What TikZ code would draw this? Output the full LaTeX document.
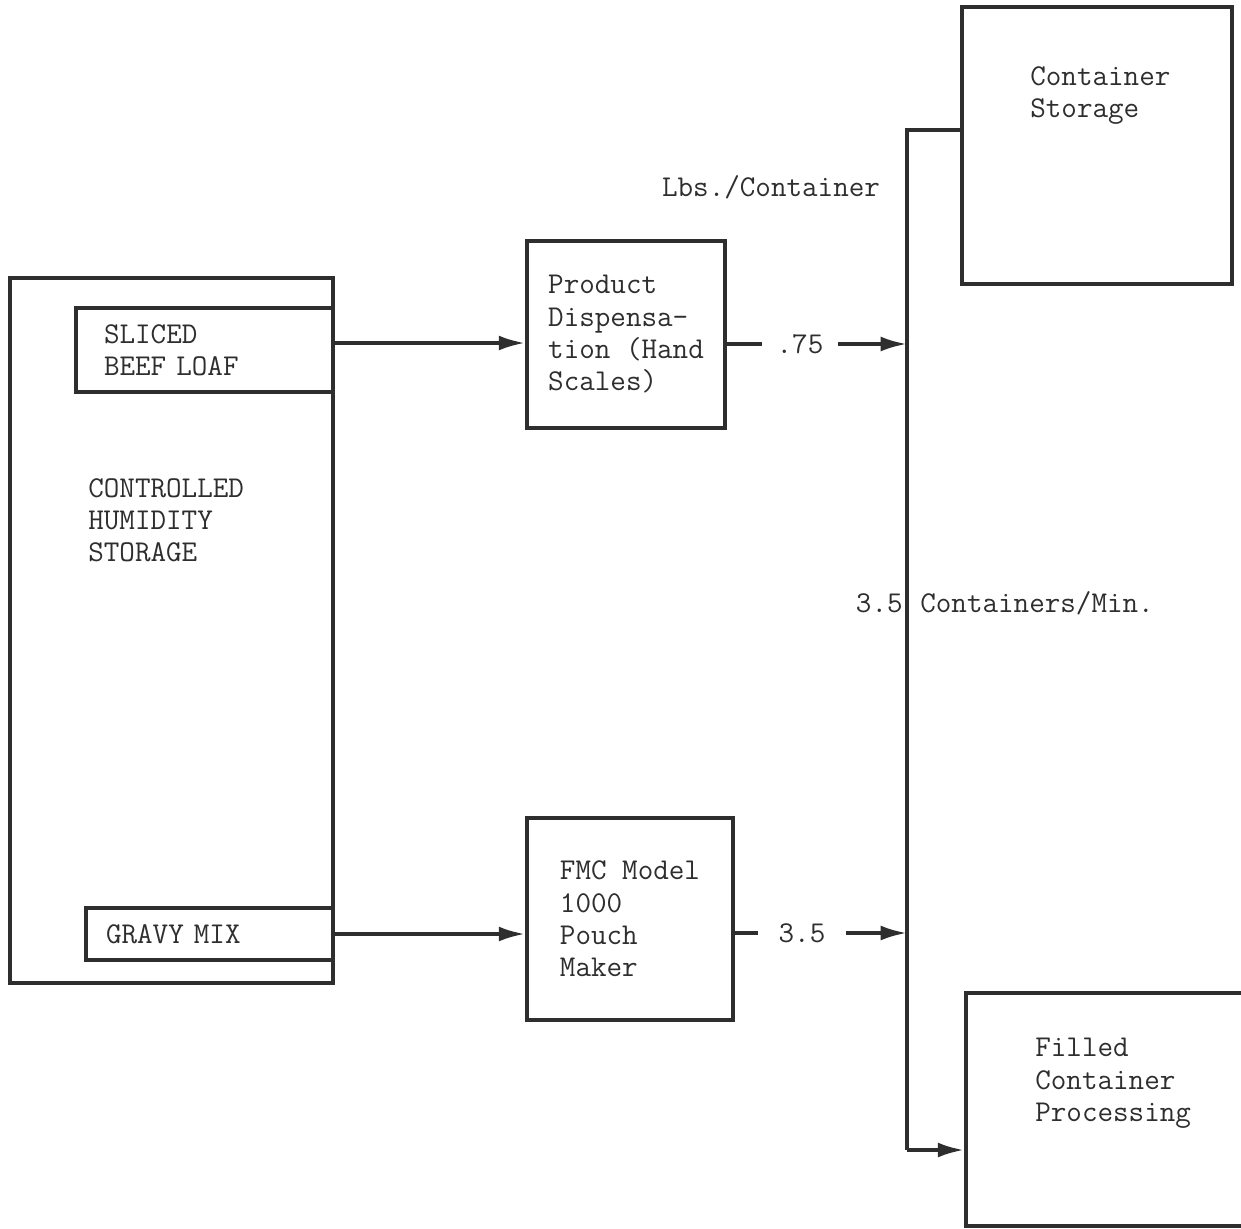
\documentclass[tikz,border=0pt]{standalone}
\usepackage{fontspec}
\definecolor{inkgray}{HTML}{2E2E2E}
\usetikzlibrary{positioning,calc,arrows.meta}

\begin{document}
\begin{tikzpicture}[
    x=0.02cm,y=-0.02cm,
    box/.style={rectangle,draw=inkgray,line width=2.1pt,inner sep=0pt},
    txt/.style={font=\fontsize{17.2}{18.4}\selectfont\ttfamily,text=inkgray,
      align=left,inner sep=0pt},
    line/.style={-,line width=2.1pt,draw=inkgray},
    flow/.style={-{Latex[length=15pt,width=8.5pt]},line width=2.1pt,draw=inkgray}
  ]
    \useasboundingbox (0,0) rectangle (1241,1228);
    % Storage with its two bins
    \node[box,minimum width=323*0.02cm,minimum height=705*0.02cm] (hum) at (171.5,630.5) {};
    \node[txt,anchor=north west] (humtxt) at (88,478) {CONTROLLED\\HUMIDITY\\STORAGE};
    \node[box,txt,minimum width=257*0.02cm,minimum height=84*0.02cm,
      text width=201*0.02cm,inner xsep=28*0.02cm] (beef) at (204.5,350) {SLICED\\BEEF LOAF};
    \node[box,txt,minimum width=247*0.02cm,minimum height=52*0.02cm,
      text width=207*0.02cm,inner xsep=20*0.02cm] (gravy) at (209.5,934) {GRAVY MIX};
    % Process boxes
    \node[box,txt,minimum width=198*0.02cm,minimum height=187*0.02cm] (disp) at (626,334.5)
      {Product\\Dispensa-\\tion (Hand\\Scales)};
    \node[box,txt,minimum width=206*0.02cm,minimum height=202*0.02cm] (fmc) at (630,919)
      {FMC Model\\1000\\Pouch\\Maker};
    \node[box,minimum width=270*0.02cm,minimum height=277*0.02cm] (store) at (1097,145.5) {};
    \node[txt,anchor=north west] (storetxt) at (1030,66) {Container\\Storage};
    \node[box,minimum width=300*0.02cm,minimum height=233*0.02cm] (filled) at (1116,1109.5) {};
    \node[txt,anchor=north west] (filledtxt) at (1035,1038) {Filled\\Container\\Processing};
    % Feeds
    \coordinate (beefout) at ($(beef.east)+(0,-7)$);
    \draw[flow] (beefout) -- (beefout -| disp.west);
    \draw[flow] (gravy.east) -- (gravy.east -| fmc.west);
    % Collecting line
    \coordinate (bustop) at (907,130);
    \coordinate (busbot) at (907,1150);
    \draw[line] (bustop -| store.west) -- (bustop) -- (busbot);
    \draw[flow] (busbot) -- (busbot -| filled.west);
    % Rates
    \node[txt,inner xsep=14*0.02cm] (r75) at (800,344) {.75};
    \draw[line] (r75 -| disp.east) -- (r75.west);
    \draw[flow] (r75.east) -- (r75 -| bustop);
    \node[txt,inner xsep=20*0.02cm] (r35) at (802,933) {3.5};
    \draw[line] (r35 -| fmc.east) -- (r35.west);
    \draw[flow] (r35.east) -- (r35 -| bustop);
    % Labels
    \node[txt] (lbs) at (771,187) {Lbs./Container};
    \node[txt,anchor=east] (rate) at (903,603) {3.5};
    \node[txt,anchor=west] (ratetxt) at (920,603) {Containers/Min.};
\end{tikzpicture}
\end{document}
